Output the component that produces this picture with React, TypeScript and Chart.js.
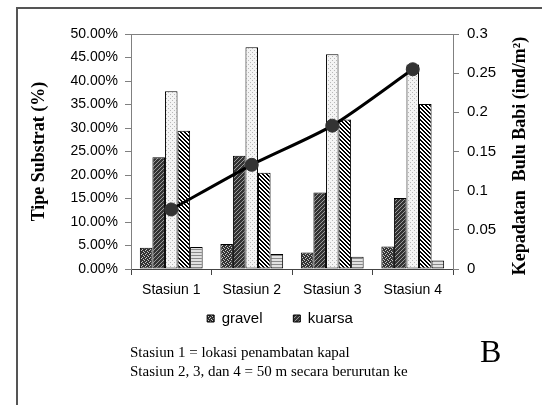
import { useEffect, useRef } from "react";
import { Chart, registerables } from "chart.js";

Chart.register(...registerables);

const categories = ["Stasiun 1", "Stasiun 2", "Stasiun 3", "Stasiun 4"];
const gravel = [4.5, 5.3, 3.5, 4.8];
const kuarsa = [23.8, 24.1, 16.3, 15.1];
const pasir = [37.8, 47.2, 45.7, 43.5];
const karang = [29.4, 20.5, 31.8, 35.1];
const lumpur = [4.7, 3.2, 2.6, 1.8];
const kepadatan = [0.076, 0.133, 0.183, 0.255];

const legendShown = ["gravel", "kuarsa"];
const leftTitle = "Tipe Substrat (%)";
const rightTitle = "Kepadatan  Bulu Babi (ind/m²)";
const captionLines = [
  "Stasiun 1 = lokasi penambatan kapal",
  "Stasiun 2, 3, dan 4 = 50 m secara berurutan ke",
];
const panelLabel = "B";

function makePattern(w: number, h: number, draw: (c: CanvasRenderingContext2D) => void) {
  const c = document.createElement("canvas");
  c.width = w;
  c.height = h;
  const x = c.getContext("2d")!;
  draw(x);
  return x.createPattern(c, "repeat")!;
}

function px(c: CanvasRenderingContext2D, pts: number[][], color: string) {
  c.fillStyle = color;
  for (const [x, y] of pts) c.fillRect(x, y, 1, 1);
}

export default function App() {
  const ref = useRef<HTMLCanvasElement | null>(null);

  useEffect(() => {
    if (!ref.current) return;

    const pGravel = makePattern(4, 4, (c) => {
      c.fillStyle = "#333";
      c.fillRect(0, 0, 4, 4);
      px(c, [[0, 0], [2, 1], [1, 2], [3, 3]], "#c8c8c8");
    });
    const pKuarsa = makePattern(4, 4, (c) => {
      c.fillStyle = "#333";
      c.fillRect(0, 0, 4, 4);
      px(c, [[3, 0], [2, 1], [1, 2], [0, 3]], "#9a9a9a");
    });
    const pPasir = makePattern(4, 4, (c) => {
      c.fillStyle = "#f4f4f4";
      c.fillRect(0, 0, 4, 4);
      px(c, [[0, 0], [2, 2]], "#b8b8b8");
    });
    const pKarang = makePattern(4, 4, (c) => {
      c.fillStyle = "#fff";
      c.fillRect(0, 0, 4, 4);
      px(c, [[0, 0], [1, 1], [2, 2], [3, 3], [1, 0], [2, 1], [3, 2], [0, 3]], "#000");
    });
    const pLumpur = makePattern(4, 3, (c) => {
      c.fillStyle = "#e2e2e2";
      c.fillRect(0, 0, 4, 3);
      c.fillStyle = "#8a8a8a";
      c.fillRect(0, 0, 4, 1);
    });

    const font = "'Liberation Sans', Arial, sans-serif";

    const barDs = (label: string, data: number[], bg: CanvasPattern) => ({
      type: "bar" as const,
      label,
      data,
      backgroundColor: bg,
      borderColor: "#000",
      borderWidth: 1,
      borderSkipped: false,
      yAxisID: "y",
      order: 1,
      categoryPercentage: 0.78,
      barPercentage: 1,
    });

    const decor = {
      id: "decor",
      beforeDatasetsDraw(chart: any) {
        const { ctx, chartArea: a } = chart;
        ctx.save();
        ctx.strokeStyle = "#808080";
        ctx.lineWidth = 1;
        ctx.beginPath();
        ctx.moveTo(a.left, a.top + 0.5);
        ctx.lineTo(a.right, a.top + 0.5);
        ctx.stroke();
        ctx.restore();
      },
      afterDraw(chart: any) {
        const { ctx, chartArea: a } = chart;
        ctx.save();
        ctx.fillStyle = "#000";
        ctx.font = "bold 18px 'Liberation Serif', 'Times New Roman', serif";
        ctx.textAlign = "center";
        ctx.textBaseline = "middle";
        ctx.save();
        ctx.translate(39, (a.top + a.bottom) / 2);
        ctx.rotate(-Math.PI / 2);
        ctx.fillText(leftTitle, 0, 0);
        ctx.restore();
        ctx.save();
        ctx.translate(520, 156);
        ctx.rotate(-Math.PI / 2);
        ctx.fillText(rightTitle, 0, 0);
        ctx.restore();
        ctx.restore();
      },
    };

    const chart = new Chart(ref.current, {
      type: "bar",
      data: {
        labels: categories,
        datasets: [
          {
            type: "line" as const,
            label: "Kepadatan Bulu Babi",
            data: kepadatan,
            yAxisID: "y1",
            borderColor: "#000",
            borderWidth: 3,
            pointRadius: 6.5,
            pointBackgroundColor: "#333",
            pointBorderColor: "#333",
            pointBorderWidth: 1,
            tension: 0.25,
            fill: false,
            order: 0,
          },
          barDs("gravel", gravel, pGravel),
          barDs("kuarsa", kuarsa, pKuarsa),
          barDs("pasir", pasir, pPasir),
          barDs("karang", karang, pKarang),
          barDs("lumpur", lumpur, pLumpur),
        ] as any,
      },
      options: {
        responsive: false,
        animation: false,
        devicePixelRatio: 1,
        layout: { padding: { top: 34, left: 18, right: 0, bottom: 69 } },
        plugins: {
          tooltip: { enabled: false },
          legend: {
            position: "bottom",
            labels: {
              generateLabels: (ch: any) =>
                Chart.defaults.plugins.legend.labels
                  .generateLabels(ch)
                  .filter((it: any) => legendShown.includes(it.text))
                  .map((it: any, i: number, arr: any[]) => ({
                    ...it,
                    text: i < arr.length - 1 ? it.text + "\u00a0\u00a0\u00a0\u00a0\u00a0" : it.text,
                  })),
              boxWidth: 7,
              boxHeight: 7,
              padding: 10,
              color: "#000",
              font: { family: font, size: 15 },
            },
          },
        },
        scales: {
          x: {
            grid: { offset: true, drawOnChartArea: false, tickLength: 6, color: "#444" },
            border: { color: "#444", width: 1 },
            ticks: { color: "#000", font: { family: font, size: 14 }, padding: 7, maxRotation: 0 },
            afterFit: (s: any) => {
              s.height = 32;
            },
          },
          y: {
            position: "left",
            min: 0,
            max: 50,
            ticks: {
              stepSize: 5,
              color: "#000",
              font: { family: font, size: 14 },
              padding: 7,
              callback: (v: any) => Number(v).toFixed(2) + "%",
            },
            grid: { drawOnChartArea: false, tickLength: 6, color: "#808080" },
            border: { color: "#808080", width: 1 },
            afterFit: (s: any) => {
              s.width = 113;
            },
          },
          y1: {
            position: "right",
            min: 0,
            max: 0.3,
            ticks: {
              stepSize: 0.05,
              color: "#000",
              font: { family: font, size: 15 },
              padding: 8,
              callback: (v: any) => String(Math.round(Number(v) * 100) / 100),
            },
            grid: { drawOnChartArea: false, tickLength: 6, color: "#808080" },
            border: { color: "#808080", width: 1 },
            afterFit: (s: any) => {
              s.width = 89;
            },
          },
        },
      } as any,
      plugins: [decor],
    });

    return () => chart.destroy();
  }, []);

  return (
    <div
      style={{
        position: "fixed",
        left: 0,
        top: 0,
        width: 542,
        height: 405,
        background: "#fff",
        overflow: "hidden",
      }}
    >
      <div
        style={{
          position: "absolute",
          left: 16,
          top: 7,
          width: 560,
          height: 420,
          borderLeft: "2px solid #555",
          borderTop: "2px solid #555",
        }}
      />
      <canvas ref={ref} width={542} height={405} style={{ position: "absolute", left: 0, top: 0 }} />
      <div
        style={{
          position: "absolute",
          left: 130,
          top: 343,
          fontFamily: "'Liberation Serif', 'Times New Roman', serif",
          fontSize: 15,
          lineHeight: "19px",
          color: "#000",
          whiteSpace: "nowrap",
        }}
      >
        {captionLines.map((l, i) => (
          <div key={i}>{l}</div>
        ))}
      </div>
      <div
        style={{
          position: "absolute",
          left: 480,
          top: 335,
          fontFamily: "'Liberation Serif', 'Times New Roman', serif",
          fontSize: 32,
          lineHeight: "32px",
          color: "#000",
        }}
      >
        {panelLabel}
      </div>
    </div>
  );
}
